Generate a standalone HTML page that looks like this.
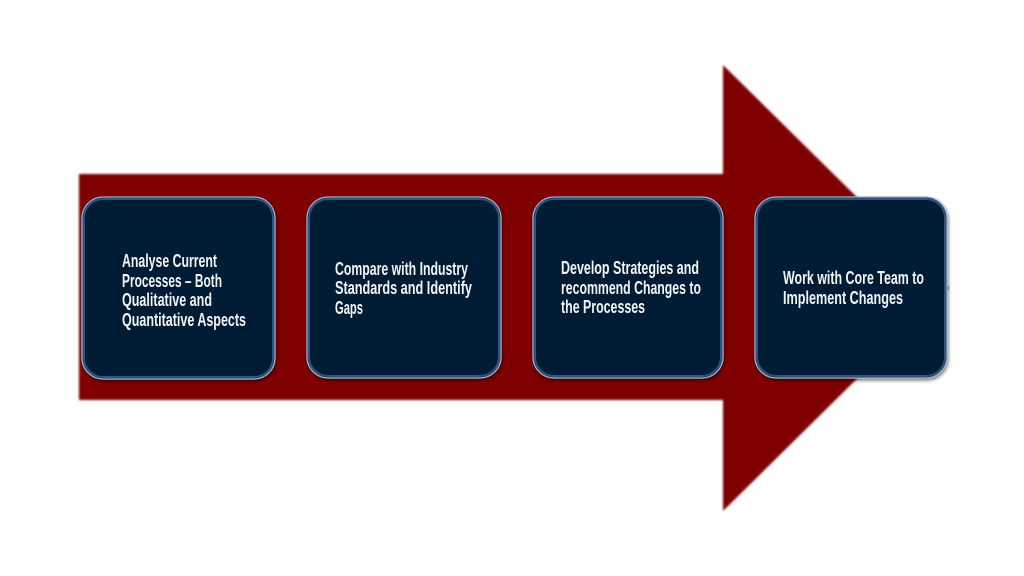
<!DOCTYPE html>
<html><head><meta charset="utf-8"><style>
html,body{margin:0;padding:0;background:#fff;width:1024px;height:576px;overflow:hidden}
svg{display:block}
text{font-family:"Liberation Sans Narrow","Liberation Sans",sans-serif;font-weight:bold;font-size:18px;fill:#f2f4f7}
</style></head><body>
<svg width="1024" height="576" viewBox="0 0 1024 576" xmlns="http://www.w3.org/2000/svg">
<defs>
<filter id="soft" x="-5%" y="-5%" width="110%" height="110%"><feGaussianBlur stdDeviation="1"/></filter>
<filter id="sh" x="-10%" y="-10%" width="120%" height="120%"><feDropShadow dx="1" dy="2" stdDeviation="1.5" flood-color="#000" flood-opacity="0.5"/></filter>
</defs>
<path d="M79 174 H723 V65 L949 288 L723 511 V400 H79 Z" fill="#7e0000" filter="url(#soft)"/>
<g filter="url(#sh)">
<rect x="82" y="197" width="193" height="182" rx="21" fill="#041d36" stroke="#9fb6cf" stroke-width="1.3"/>
<rect x="84" y="199" width="189" height="178" rx="19" fill="none" stroke="#2b5680" stroke-width="2"/>
<rect x="307" y="197" width="194" height="181" rx="21" fill="#041d36" stroke="#9fb6cf" stroke-width="1.3"/>
<rect x="309" y="199" width="190" height="177" rx="19" fill="none" stroke="#2b5680" stroke-width="2"/>
<rect x="533" y="197" width="190" height="181" rx="21" fill="#041d36" stroke="#9fb6cf" stroke-width="1.3"/>
<rect x="535" y="199" width="186" height="177" rx="19" fill="none" stroke="#2b5680" stroke-width="2"/>
<rect x="755" y="197" width="192" height="181" rx="21" fill="#041d36" stroke="#9fb6cf" stroke-width="1.3"/>
<rect x="757" y="199" width="188" height="177" rx="19" fill="none" stroke="#2b5680" stroke-width="2"/>
</g>
<text x="122" y="267" textLength="95" lengthAdjust="spacingAndGlyphs">Analyse Current</text>
<text x="122" y="287" textLength="100" lengthAdjust="spacingAndGlyphs">Processes – Both</text>
<text x="122" y="306" textLength="90" lengthAdjust="spacingAndGlyphs">Qualitative and</text>
<text x="122" y="326" textLength="124" lengthAdjust="spacingAndGlyphs">Quantitative Aspects</text>

<text x="335" y="275" textLength="133" lengthAdjust="spacingAndGlyphs">Compare with Industry</text>
<text x="335" y="294" textLength="137" lengthAdjust="spacingAndGlyphs">Standards and Identify</text>
<text x="335" y="314" textLength="28" lengthAdjust="spacingAndGlyphs">Gaps</text>

<text x="561" y="274" textLength="138" lengthAdjust="spacingAndGlyphs">Develop Strategies and</text>
<text x="561" y="294" textLength="140" lengthAdjust="spacingAndGlyphs">recommend Changes to</text>
<text x="561" y="313" textLength="84" lengthAdjust="spacingAndGlyphs">the Processes</text>

<text x="783" y="284" textLength="141" lengthAdjust="spacingAndGlyphs">Work with Core Team to</text>
<text x="783" y="304" textLength="120" lengthAdjust="spacingAndGlyphs">Implement Changes</text>
</svg>
</body></html>
